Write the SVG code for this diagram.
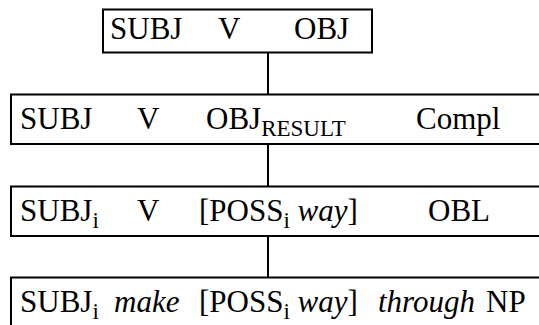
<svg xmlns="http://www.w3.org/2000/svg" width="539" height="325" viewBox="0 0 539 325">
<style>
  .box { fill: #ffffff; stroke: #000000; stroke-width: 2; }
  .conn { stroke: #000000; stroke-width: 2; fill: none; }
  text { font-family: "Liberation Serif", "Times New Roman", "DejaVu Serif", serif; font-size: 31px; fill: #000000; }
  .sub { font-size: 23px; }
  .it { font-style: italic; }
</style>
<rect x="0" y="0" width="539" height="325" fill="#ffffff"/>
<g id="connectors">
  <line class="conn" x1="268" y1="52.5" x2="268" y2="94.5"/>
  <line class="conn" x1="268" y1="144" x2="268" y2="186.5"/>
  <line class="conn" x1="268" y1="236" x2="268" y2="277.5"/>
</g>
<g id="node1">
  <rect class="box" x="103" y="9.5" width="269" height="43"/>
  <text x="110" y="39">SUBJ</text>
  <text x="218" y="39">V</text>
  <text x="294" y="39">OBJ</text>
</g>
<g id="node2">
  <rect class="box" x="11" y="94.5" width="540" height="49.5"/>
  <text x="20" y="129">SUBJ</text>
  <text x="137" y="129">V</text>
  <text x="206" y="129">OBJ<tspan class="sub" dy="7">RESULT</tspan></text>
  <text x="416" y="129">Compl</text>
</g>
<g id="node3">
  <rect class="box" x="11" y="186.5" width="540" height="49.5"/>
  <text x="20" y="220.5">SUBJ<tspan class="sub" dy="7">i</tspan></text>
  <text x="137" y="220.5">V</text>
  <text x="199" y="220.5">[POSS<tspan class="sub" dy="7">i</tspan><tspan dy="-7"> </tspan><tspan class="it">way</tspan>]</text>
  <text x="428" y="220.5">OBL</text>
</g>
<g id="node4">
  <rect class="box" x="11" y="277.5" width="540" height="60"/>
  <text x="20" y="311.5">SUBJ<tspan class="sub" dy="7">i</tspan></text>
  <text x="114" y="311.5" class="it">make</text>
  <text x="199" y="311.5">[POSS<tspan class="sub" dy="7">i</tspan><tspan dy="-7"> </tspan><tspan class="it">way</tspan>]</text>
  <text x="378" y="311.5"><tspan class="it">through</tspan> <tspan x="486">NP</tspan></text>
</g>
</svg>
